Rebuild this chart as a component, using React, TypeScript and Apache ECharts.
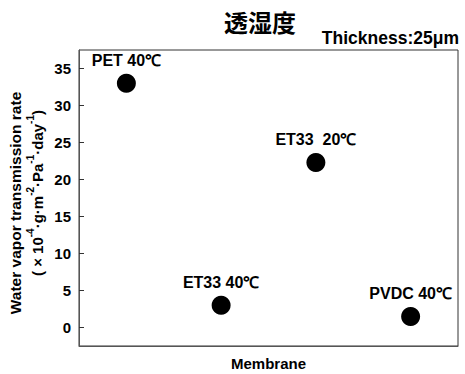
import React, { useEffect, useRef } from "react";
import * as echarts from "echarts";

const categories = ["PET 40℃", "ET33 40℃", "ET33  20℃", "PVDC 40℃"];
const values = [33, 3, 22.3, 1.5];
const yTicks = [0, 5, 10, 15, 20, 25, 30, 35];

export default function App() {
  const ref = useRef<HTMLDivElement>(null);
  useEffect(() => {
    const chart = echarts.init(ref.current!, null, { renderer: "svg" });
    const font = "'Liberation Sans', Arial, sans-serif";
    const narrow = "'Liberation Sans Narrow', 'Liberation Sans', Arial, sans-serif";
    chart.setOption({
      animation: false,
      backgroundColor: "#fff",
      title: [
        {
          text: "透湿度",
          left: 255,
          top: 4,
          textAlign: "center",
          textStyle: { fontFamily: "'Noto Sans CJK JP', sans-serif", fontSize: 24, fontWeight: "bold", color: "#000" },
        },
        {
          text: "Thickness:25μm",
          right: 1,
          top: 24,
          textStyle: { fontFamily: font, fontSize: 17.5, fontWeight: "bold", color: "#000" },
        },
      ],
      grid: {
        left: 79,
        right: 7,
        top: 50,
        bottom: 28,
        show: true,
        borderColor: "#333",
        borderWidth: 1,
        containLabel: false,
        outerBoundsMode: "none",
      },
      xAxis: {
        type: "category",
        data: categories,
        boundaryGap: true,
        name: "Membrane",
        nameLocation: "middle",
        nameGap: 10,
        nameTextStyle: { fontFamily: font, fontSize: 15, fontWeight: "bold", color: "#000" },
        axisLine: { onZero: false, lineStyle: { color: "#555" } },
        axisTick: { show: false },
        axisLabel: { show: false },
        splitLine: { show: false },
      },
      yAxis: {
        type: "value",
        min: -2.5,
        max: 37.5,
        axisLine: { show: true, lineStyle: { color: "#555" } },
        axisTick: { show: true, inside: true, length: 5, customValues: yTicks, lineStyle: { color: "#333" } },
        axisLabel: {
          customValues: yTicks,
          fontFamily: narrow,
          fontSize: 15,
          fontWeight: "bold",
          color: "#000",
          margin: 8,
        },
        splitLine: { show: false },
      },
      graphic: [
        {
          type: "text",
          x: 15,
          y: 203,
          rotation: Math.PI / 2,
          style: {
            text: "Water vapor transmission rate",
            align: "center",
            verticalAlign: "middle",
            fill: "#000",
            font: "bold 15.5px 'Liberation Sans', Arial, sans-serif",
          },
        },
        {
          type: "text",
          x: 35,
          y: 193,
          rotation: Math.PI / 2,
          style: {
            text: "{a|( × 10}{s|-4}{a|·g·m}{s|-2}{a|·Pa}{s|-1}{a|·day}{s|-1}{a|)}",
            align: "center",
            verticalAlign: "middle",
            fill: "#000",
            rich: {
              a: { fontFamily: font, fontSize: 15, fontWeight: "bold", lineHeight: 20, verticalAlign: "bottom", fill: "#000" },
              s: { fontFamily: font, fontSize: 10, fontWeight: "bold", lineHeight: 20, verticalAlign: "top", fill: "#000" },
            },
          },
        },
      ],
      series: [
        {
          type: "scatter",
          data: values,
          symbol: "circle",
          symbolSize: 19,
          itemStyle: { color: "#000", opacity: 1 },
          label: {
            show: true,
            position: "top",
            distance: 5,
            formatter: (p: any) => categories[p.dataIndex],
            fontFamily: font,
            fontSize: 16,
            fontWeight: "bold",
            color: "#000",
          },
          emphasis: { disabled: true },
        },
      ],
    });
    return () => chart.dispose();
  }, []);
  return <div ref={ref} style={{ position: "fixed", left: 0, top: 0, width: 465, height: 374 }} />;
}
